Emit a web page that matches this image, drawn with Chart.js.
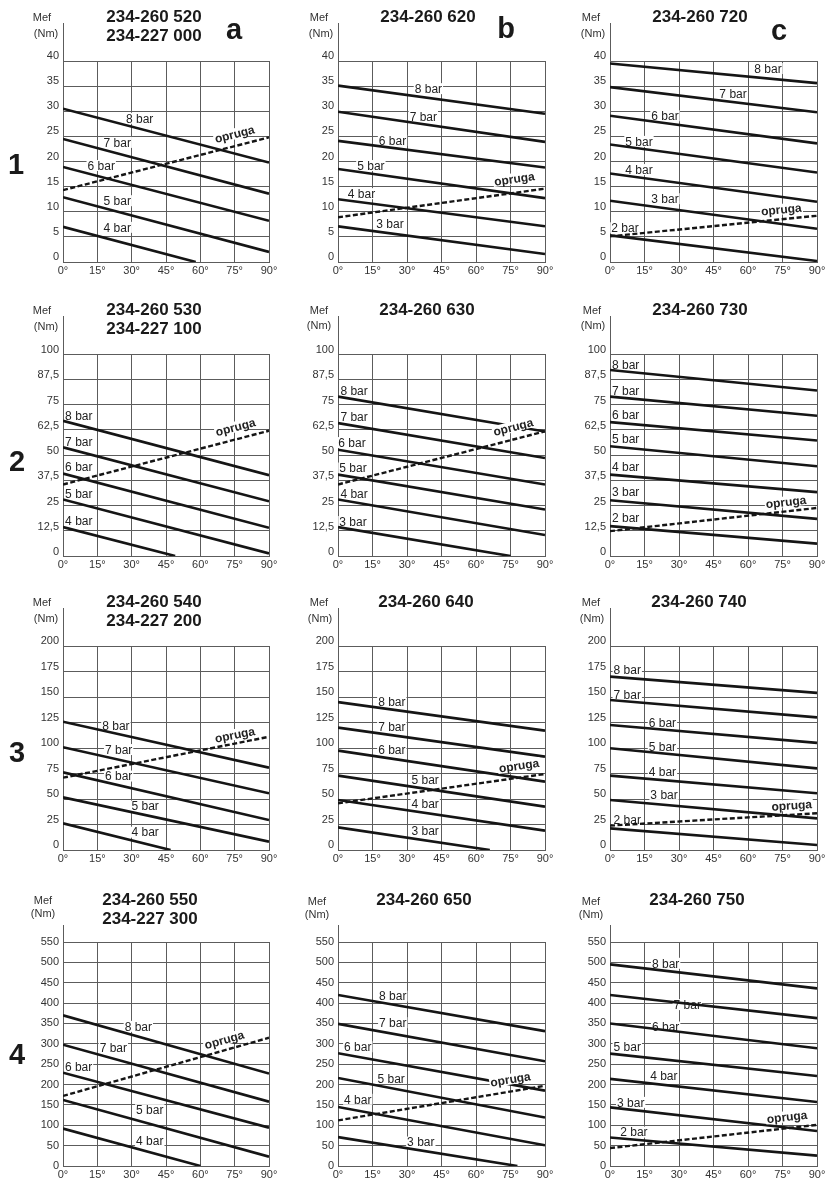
<!DOCTYPE html>
<html><head><meta charset="utf-8">
<script src="https://cdn.jsdelivr.net/npm/chart.js@4/dist/chart.umd.min.js"></script>
<style>
body{margin:0;background:#fff;width:828px;height:1187px;position:relative;overflow:hidden;font-family:"Liberation Sans",Arial,sans-serif;}
canvas{position:absolute;}
.t{position:absolute;white-space:nowrap;transform:translate(-50%,-50%);color:#1a1a1a;}
.title{font-weight:bold;font-size:17px;}
.mef{font-size:11px;color:#333;}
.big{font-weight:bold;font-size:29px;}
</style></head><body>
<script>
// ---------- axis ticks ----------
const angleTicks = [0, 15, 30, 45, 60, 75, 90];
const angleLabels = ['0°','15°','30°','45°','60°','75°','90°'];
const yTicksRow1 = [0, 5, 10, 15, 20, 25, 30, 35, 40];
const yLabelsRow1 = ['0','5','10','15','20','25','30','35','40'];
const yTicksRow2 = [0, 12.5, 25, 37.5, 50, 62.5, 75, 87.5, 100];
const yLabelsRow2 = ['0','12,5','25','37,5','50','62,5','75','87,5','100'];
const yTicksRow3 = [0, 25, 50, 75, 100, 125, 150, 175, 200];
const yLabelsRow3 = ['0','25','50','75','100','125','150','175','200'];
const yTicksRow4 = [0, 50, 100, 150, 200, 250, 300, 350, 400, 450, 500, 550];
const yLabelsRow4 = ['0','50','100','150','200','250','300','350','400','450','500','550'];

// ---------- series (value at 0°, value at end angle, end angle) ----------
// 234-260 520 / 234-227 000
const bars1a = ['4 bar','5 bar','6 bar','7 bar','8 bar'];
const at0_1a = [7.0, 12.9, 18.9, 24.5, 30.5];
const end_1a = [0, 2.0, 8.2, 13.6, 19.8];
const endAng_1a = [58, 90, 90, 90, 90];
const spring_1a = [14.3, 24.8];
// 234-260 620
const bars1b = ['3 bar','4 bar','5 bar','6 bar','7 bar','8 bar'];
const at0_1b = [7.1, 12.5, 18.5, 24.1, 29.9, 35.1];
const end_1b = [1.6, 7.1, 12.7, 18.8, 23.9, 29.5];
const endAng_1b = [90, 90, 90, 90, 90, 90];
const spring_1b = [8.9, 14.6];
// 234-260 720
const bars1c = ['2 bar','3 bar','4 bar','5 bar','6 bar','7 bar','8 bar'];
const at0_1c = [5.3, 12.2, 17.6, 23.4, 29.1, 34.8, 39.5];
const end_1c = [0.2, 6.6, 12.0, 17.8, 23.6, 29.8, 35.6];
const endAng_1c = [90, 90, 90, 90, 90, 90, 90];
const spring_1c = [5.1, 9.2];
// 234-260 530 / 234-227 100
const bars2a = ['4 bar','5 bar','6 bar','7 bar','8 bar'];
const at0_2a = [14.3, 28.0, 40.8, 53.8, 66.9];
const end_2a = [0, 1.3, 14.0, 27.1, 40.0];
const endAng_2a = [49, 90, 90, 90, 90];
const spring_2a = [35.4, 62.0];
// 234-260 630
const bars2b = ['3 bar','4 bar','5 bar','6 bar','7 bar','8 bar'];
const at0_2b = [14.3, 28.0, 40.3, 52.6, 65.8, 78.9];
const end_2b = [0, 10.4, 23.0, 35.4, 48.5, 61.6];
const endAng_2b = [75, 90, 90, 90, 90, 90];
const spring_2b = [35.4, 61.7];
// 234-260 730
const bars2c = ['2 bar','3 bar','4 bar','5 bar','6 bar','7 bar','8 bar'];
const at0_2c = [14.8, 27.6, 40.3, 54.3, 66.3, 78.9, 92.1];
const end_2c = [6.1, 18.4, 31.6, 44.4, 57.2, 69.4, 81.9];
const endAng_2c = [90, 90, 90, 90, 90, 90, 90];
const spring_2c = [12.3, 23.8];
// 234-260 540 / 234-227 200
const bars3a = ['4 bar','5 bar','6 bar','7 bar','8 bar'];
const at0_3a = [26.1, 51.6, 76.1, 100.7, 125.8];
const end_3a = [0, 8.2, 29.4, 55.6, 80.7];
const endAng_3a = [47, 90, 90, 90, 90];
const spring_3a = [70.9, 111];
// 234-260 640
const bars3b = ['3 bar','4 bar','5 bar','6 bar','7 bar','8 bar'];
const at0_3b = [22.2, 49, 72.9, 97.4, 120, 145];
const end_3b = [0, 19, 42.5, 67, 91.5, 117];
const endAng_3b = [66, 90, 90, 90, 90, 90];
const spring_3b = [45.8, 74.5];
// 234-260 740
const bars3c = ['2 bar','3 bar','4 bar','5 bar','6 bar','7 bar','8 bar'];
const at0_3c = [21.2, 49, 72.9, 99.7, 122.5, 147, 170];
const end_3c = [4.9, 31, 55.6, 80, 105, 130, 154];
const endAng_3c = [90, 90, 90, 90, 90, 90, 90];
const spring_3c = [23.9, 36];
// 234-260 550 / 234-227 300
const bars4a = ['4 bar','5 bar','6 bar','7 bar','8 bar'];
const at0_4a = [92, 162, 229, 298, 370];
const end_4a = [0, 23, 94, 158, 227];
const endAng_4a = [60, 90, 90, 90, 90];
const spring_4a = [172, 315];
// 234-260 650
const bars4b = ['3 bar','4 bar','5 bar','6 bar','7 bar','8 bar'];
const at0_4b = [71, 145, 216, 277, 349, 420];
const end_4b = [0, 51, 119, 185, 257, 331];
const endAng_4b = [78, 90, 90, 90, 90, 90];
const spring_4b = [112, 197];
// 234-260 750
const bars4c = ['2 bar','3 bar','4 bar','5 bar','6 bar','7 bar','8 bar'];
const at0_4c = [70, 144, 214, 276, 350, 420, 495];
const end_4c = [25.5, 86, 157, 221, 289, 363, 436];
const endAng_4c = [90, 90, 90, 90, 90, 90, 90];
const spring_4c = [44, 101];

// ---------- label anchors (angle, value) per series, last = opruga ----------
const lbl1a = [[23.7,6.8],[23.7,12.1],[16.7,19.1],[23.7,23.7],[33.5,28.5],[75,25.4]];
const lbl1b = [[22.6,7.6],[10.2,13.5],[14.3,19.1],[23.7,24.1],[37.1,28.9],[39.3,34.4],[76.7,16.5]];
const lbl1c = [[6.5,6.7],[23.9,12.5],[12.6,18.3],[12.6,23.9],[23.9,29.0],[53.5,33.3],[68.7,38.4],[74.5,10.4]];
const lbl2a = [[6.9,17.3],[6.9,30.8],[6.9,44.1],[6.9,56.4],[6.9,69.4],[75.4,63.7]];
const lbl2b = [[6.5,16.8],[7.0,30.4],[6.5,43.3],[6.1,55.9],[7.0,68.6],[7.0,81.4],[76.2,63.7]];
const lbl2c = [[6.8,18.6],[6.8,31.6],[6.8,43.9],[6.8,57.6],[6.8,69.6],[6.8,81.7],[6.8,94.6],[76.5,26.6]];
const lbl3a = [[35.9,17],[35.9,42.5],[24.3,72],[24.3,98],[23.1,121],[75.1,112.7]];
const lbl3b = [[37.9,18],[37.9,44.8],[37.9,68.6],[23.4,97.4],[23.4,120],[23.4,144.8],[78.7,82.4]];
const lbl3c = [[7.5,29.4],[23.5,54],[22.8,76],[22.8,101],[22.8,124],[7.5,152],[7.5,176.5],[79,43.5]];
const lbl4a = [[37.9,61],[37.9,137],[6.8,243.5],[22,290],[32.9,341.6],[70.5,309]];
const lbl4b = [[36,57.5],[8.6,162.6],[23.1,213.5],[8.6,291.5],[23.8,350.6],[23.8,416],[75,212]];
const lbl4c = [[10.4,82],[9,155],[23.4,220.7],[7.5,292],[24.2,340],[33.6,395],[24.2,496.5],[77,120]];

const titles = [
  ['234-260 520','234-227 000'], ['234-260 620'], ['234-260 720'],
  ['234-260 530','234-227 100'], ['234-260 630'], ['234-260 730'],
  ['234-260 540','234-227 200'], ['234-260 640'], ['234-260 740'],
  ['234-260 550','234-227 300'], ['234-260 650'], ['234-260 750']
];

// ---------- layout ----------
const FONT = '"Liberation Sans", Arial, sans-serif';
Chart.defaults.font.family = FONT;
const colLR = [[63,269],[338,545],[610,817]];
const rowTB = [[61,262],[354,556],[646,850],[942,1166]];
const rowTicks = [[yTicksRow1,yLabelsRow1],[yTicksRow2,yLabelsRow2],[yTicksRow3,yLabelsRow3],[yTicksRow4,yLabelsRow4]];
const rowOff = [-5,-4,-5,0];
const rowExt = [38,38,38,17];
const seriesTable = [
  [bars1a,at0_1a,end_1a,endAng_1a,spring_1a,lbl1a],[bars1b,at0_1b,end_1b,endAng_1b,spring_1b,lbl1b],[bars1c,at0_1c,end_1c,endAng_1c,spring_1c,lbl1c],
  [bars2a,at0_2a,end_2a,endAng_2a,spring_2a,lbl2a],[bars2b,at0_2b,end_2b,endAng_2b,spring_2b,lbl2b],[bars2c,at0_2c,end_2c,endAng_2c,spring_2c,lbl2c],
  [bars3a,at0_3a,end_3a,endAng_3a,spring_3a,lbl3a],[bars3b,at0_3b,end_3b,endAng_3b,spring_3b,lbl3b],[bars3c,at0_3c,end_3c,endAng_3c,spring_3c,lbl3c],
  [bars4a,at0_4a,end_4a,endAng_4a,spring_4a,lbl4a],[bars4b,at0_4b,end_4b,endAng_4b,spring_4b,lbl4b],[bars4c,at0_4c,end_4c,endAng_4c,spring_4c,lbl4c]
];

const GRID = '#5c5c5c';
const LINE = '#151515';

function drawLabels(chart, items, springPass){
  const ctx = chart.ctx, x = chart.scales.x, y = chart.scales.y;
  const ds = chart.data.datasets;
  items.forEach((p, i) => {
    const isSpring = i === ds.length - 1;
    if (isSpring !== springPass) return;
    const text = ds[i].label;
    const px = x.getPixelForValue(p[0]), py = y.getPixelForValue(p[1]);
    ctx.save();
    ctx.translate(px, py);
    if (isSpring) {
      const d = ds[i].data;
      const ang = Math.atan2(y.getPixelForValue(d[1].y) - y.getPixelForValue(d[0].y),
                             x.getPixelForValue(d[1].x) - x.getPixelForValue(d[0].x));
      ctx.rotate(ang);
    }
    ctx.font = (isSpring ? 'bold ' : '') + '12px ' + FONT;
    const w = ctx.measureText(text).width;
    ctx.fillStyle = '#fff';
    ctx.fillRect(-w/2 - 1, -6, w + 2, 11);
    ctx.fillStyle = '#222';
    ctx.textAlign = 'center';
    ctx.textBaseline = 'middle';
    ctx.fillText(text, 0, 0.5);
    ctx.restore();
  });
}

function makeChart(idx){
  const r = Math.floor(idx / 3), c = idx % 3;
  const [L, R] = colLR[c], [T, B] = rowTB[r];
  const [bars, at0, endV, endA, spring, lbl] = seriesTable[idx];
  const [yVals, yLabs] = rowTicks[r];
  const padTop = 45, padRight = 12, yW = 40, xH = 22;
  const cv = document.createElement('canvas');
  const w = R - L + yW + padRight, h = B - T + padTop + xH;
  cv.width = w; cv.height = h;
  cv.style.left = (L - yW) + 'px'; cv.style.top = (T - padTop) + 'px';
  cv.style.width = w + 'px'; cv.style.height = h + 'px';
  document.body.appendChild(cv);

  const datasets = bars.map((b, i) => ({
    label: b,
    data: [{x: 0, y: at0[i]}, {x: endA[i], y: endV[i]}],
    showLine: true, borderColor: LINE, borderWidth: 2.6, pointRadius: 0, fill: false
  }));
  datasets.push({
    label: 'opruga',
    data: [{x: 0, y: spring[0]}, {x: 90, y: spring[1]}],
    showLine: true, borderColor: LINE, borderWidth: 2.4, borderDash: [5, 2.5], pointRadius: 0, fill: false
  });

  const plugins = [{
    id: 'lineLabels' + idx,
    beforeDatasetsDraw(chart){ drawLabels(chart, lbl, false); },
    afterDatasetsDraw(chart){ drawLabels(chart, lbl, true); }
  }, {
    id: 'axisExt' + idx,
    afterDraw(chart){
      const ctx = chart.ctx, a = chart.chartArea;
      ctx.save();
      ctx.strokeStyle = GRID; ctx.lineWidth = 1;
      ctx.beginPath();
      ctx.moveTo(Math.round(a.left) + 0.5, a.top);
      ctx.lineTo(Math.round(a.left) + 0.5, a.top - rowExt[r]);
      ctx.stroke();
      ctx.restore();
    }
  }];

  new Chart(cv, {
    type: 'scatter',
    data: { datasets },
    options: {
      responsive: false, animation: false, devicePixelRatio: 1,
      layout: { padding: { top: padTop, right: padRight, left: 0, bottom: 0 } },
      plugins: { legend: { display: false }, tooltip: { enabled: false } },
      scales: {
        x: {
          type: 'linear', min: 0, max: 90,
          afterBuildTicks: s => { s.ticks = angleTicks.map(v => ({value: v})); },
          afterFit: s => { s.height = xH; },
          ticks: { callback: (v, i) => angleLabels[i], padding: 2, maxRotation: 0, autoSkip: false,
                   font: { size: 11 }, color: '#333' },
          grid: { color: GRID, lineWidth: 1, drawTicks: false },
          border: { color: GRID, width: 1 }
        },
        y: {
          type: 'linear', min: 0, max: yVals[yVals.length - 1],
          afterBuildTicks: s => { s.ticks = yVals.map(v => ({value: v})); },
          afterFit: s => { s.width = yW; },
          ticks: { callback: (v, i) => yLabs[i], padding: 4, labelOffset: rowOff[r], autoSkip: false,
                   font: { size: 11 }, color: '#333' },
          grid: { color: GRID, lineWidth: 1, drawTicks: false },
          border: { color: GRID, width: 1 }
        }
      }
    },
    plugins
  });
}

for (let i = 0; i < 12; i++) makeChart(i);

// ---------- text ----------
function addText(text, x, y, cls){
  const d = document.createElement('div');
  d.className = 't ' + cls;
  d.textContent = text;
  d.style.left = x + 'px'; d.style.top = y + 'px';
  document.body.appendChild(d);
}
const titlePos = [[154,17],[428,17],[700,17],[154,310],[427,310],[700,310],[154,602],[426,602],[699,602],[150,900],[424,900],[697,900]];
const mefPos = [[42,17,46,33],[319,17,321,33],[591,17,593,33],[42,310,46,326],[319,310,319,325],[592,310,593,325],
                [42,602,46,618],[319,602,320,618],[591,602,592,618],[43,900,43,913],[317,901,317,914],[591,901,591,914]];
titles.forEach((t, i) => {
  t.forEach((line, j) => addText(line, titlePos[i][0], titlePos[i][1] + j * 19, 'title'));
  addText('Mef', mefPos[i][0], mefPos[i][1], 'mef');
  addText('(Nm)', mefPos[i][2], mefPos[i][3], 'mef');
});
const rowNames = ['1','2','3','4'];
const rowNamePos = [[16,164],[17,461],[17,752],[17,1054]];
rowNames.forEach((n, i) => addText(n, rowNamePos[i][0], rowNamePos[i][1], 'big'));
const colNames = ['a','b','c'];
const colNamePos = [[234,29],[506,28],[779,30]];
colNames.forEach((n, i) => addText(n, colNamePos[i][0], colNamePos[i][1], 'big'));
</script>
</body></html>
